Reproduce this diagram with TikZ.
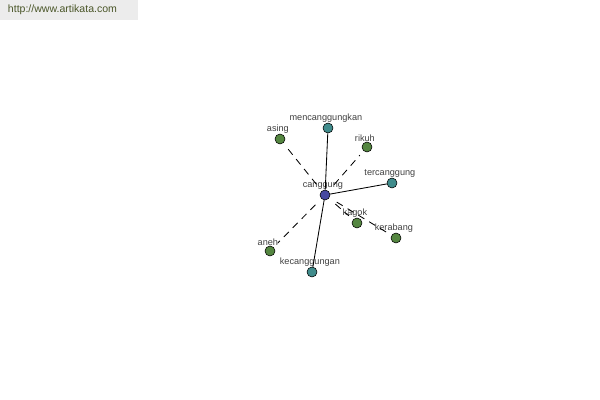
\documentclass[tikz,border=0pt]{standalone}
\usepackage{fontspec}
\setmainfont{Liberation Sans}
\usepackage{tikz}
\usetikzlibrary{positioning}
\definecolor{nodeG}{RGB}{84,134,64}
\definecolor{nodeT}{RGB}{64,140,140}
\definecolor{nodeC}{RGB}{70,72,160}
\definecolor{headBg}{RGB}{236,236,236}
\definecolor{headTx}{RGB}{74,86,40}

\begin{document}
\begin{tikzpicture}[x=0.025cm,y=-0.025cm,
  word/.style={circle,draw=black,thin,minimum size=10*0.025cm,inner sep=0pt},
  lbl/.style={font=\fontsize{6.5}{7}\selectfont,text=black!75,inner sep=1pt,xshift=-1.5pt,yshift=-1pt},
  syn/.style={line width=0.6pt,dashed,dash pattern=on 5pt off 4pt,shorten <=6pt,shorten >=4pt},
  rel/.style={line width=0.6pt}]
  \useasboundingbox (0,0) rectangle (600,400);
  % header
  \fill[headBg] (0,0) rectangle (138,20);
  \node[anchor=west,font=\fontsize{7.5}{8}\selectfont,text=headTx] (site) at (3,10) {http://www.artikata.com};
  % words
  \node[word,fill=nodeC,label={[lbl]above:canggung}] (canggung) at (325,195) {};
  \node[word,fill=nodeT,label={[lbl]above:mencanggungkan}] (mencanggungkan) at (328,128) {};
  \node[word,fill=nodeG,label={[lbl]above:asing}] (asing) at (280,139) {};
  \node[word,fill=nodeG,label={[lbl]above:rikuh}] (rikuh) at (367,147) {};
  \node[word,fill=nodeT,label={[lbl]above:tercanggung}] (tercanggung) at (392,183) {};
  \node[word,fill=nodeG,label={[lbl]above:kagok}] (kagok) at (357,223) {};
  \node[word,fill=nodeG,label={[lbl]above:kerabang}] (kerabang) at (396,238) {};
  \node[word,fill=nodeG,label={[lbl]above:aneh}] (aneh) at (270,251) {};
  \node[word,fill=nodeT,label={[lbl]above:kecanggungan}] (kecanggungan) at (312,272) {};
  % links
  \foreach \w in {mencanggungkan,tercanggung,kecanggungan}
    \draw[rel] (canggung) -- (\w);
  \foreach \w in {asing,rikuh,kagok,kerabang,aneh}
    \draw[syn] (canggung) -- (\w);
\end{tikzpicture}
\end{document}
